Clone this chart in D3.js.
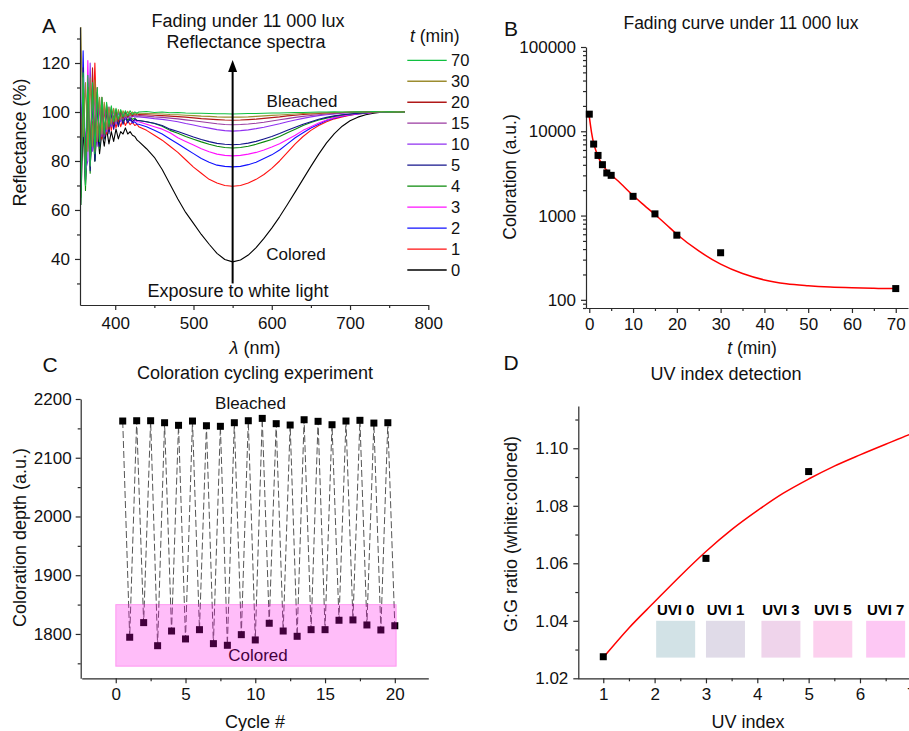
<!DOCTYPE html>
<html><head><meta charset="utf-8">
<script src="https://cdn.jsdelivr.net/npm/d3@7"></script>
<style>
body{margin:0;background:#fff}
svg{display:block;font-family:"Liberation Sans",Arial,Helvetica,sans-serif}
</style></head><body>
<svg id="chart" width="909" height="731"></svg>
<script>
// ---------------- DATA ----------------
// Panel A: reflectance spectra (%)
const wavelengths = [356,359,362,365,368,371,374,377,380,383,386,389,392,395,398,401,404,407,410,413,416,419,422,425,428,
  430,440,450,460,470,480,490,500,510,520,530,540,550,560,570,580,590,600,610,620,630,640,650,660,670,680,690,700,710,720,730,740,750,760,770];
const spectraTimes = [0,1,2,3,4,5,10,15,20,30,70];
const spectrum0 = [62,95,70,98,78,96,80,94,83,92,86,93,87,92,88,93,89,92,91,93.5,91,92,90.5,90,88.5,
  88,85,81.5,76.5,70.5,64.5,59,54.5,50,46,42.3,39.8,38.8,39.6,41.6,44.6,48.4,52.6,57.2,62.2,67.4,72.6,77.8,82.8,87.4,91.2,94.2,96.4,97.9,98.9,99.5,99.9,100.1,100,100.2];
const spectrum1 = [75,112,80,108,85,90,120,88,103,89,101,91,99.5,92.5,98.5,93.5,97.5,94,97,94.5,96.5,94.8,95.8,94.5,95,
  94,92.5,90.5,88.5,86,83.5,80.5,77.5,75,72.5,71,70,69.7,70,71,72.5,74.5,77,80,83.5,87,90,92.5,94.5,96,97.2,98,98.7,99.2,99.5,99.8,100,100.2,100,100.1];
const spectrum2 = [80,125,78,112,82,108,86,104,89,102,91,101,93,99,94,98.5,95,98,96,97.5,96,97,95.5,96,95,
  95,94,92.5,91,89,87,85,83,81,79.5,78.3,77.8,77.6,77.8,78.5,79.5,81,82.5,84.5,87,89.5,91.5,93.5,95,96.5,97.5,98.3,98.8,99.2,99.5,99.8,100,100.1,99.9,100.2];
const spectrum3 = [70,110,72,121,80,110,84,106,88,103,90,101,92,100,93,99,94.5,98.5,95.5,98,96,97.5,96,97,96,
  96,95,94,93,91.5,89.5,88,86.5,85,83.8,82.8,82.3,82.1,82.3,82.8,83.5,84.5,85.7,87,88.8,90.5,92.5,94,95.5,96.7,97.7,98.4,98.9,99.3,99.6,99.8,100,100,100.1,100];
const spectrum4 = [65,115,68,110,75,112,80,108,85,104,89,102,92,101,94,100,95,99,96,98.5,96.5,98,97,97.5,96.5,
  96.5,96,95.3,94.2,92.5,91.3,90,88.9,87.8,86.8,86,85.5,85.3,85.5,86,86.8,87.8,88.8,90,91.5,93,94.5,95.7,96.7,97.5,98.2,98.8,99.2,99.5,99.7,100,100,100.1,100,100];
const spectrum5 = [68,118,72,105,76,106,80,104,86,102,89,101,91,100,93,99,94,98.5,95,98,95.5,97.5,96,97,96.5,
  96.5,96,95.4,94.5,93,92,90.9,89.8,88.8,87.9,87.2,86.8,86.6,86.8,87.3,88,89,90,91.2,92.5,93.8,95,96,97,97.8,98.4,98.9,99.2,99.5,99.7,100,100,99.9,100.1,100];
const spectrum10 = [72,114,76,80,120,84,109,86,105,90,103,92,102,94,101,95,100,96,99.5,97,99,97.5,98.5,98,98,
  98,97.7,97.3,97,96.5,96,95.3,94.7,94,93.4,92.8,92.4,92.2,92.4,92.7,93.2,93.8,94.5,95.2,96,96.7,97.4,98,98.5,98.9,99.2,99.5,99.7,99.9,100,100,100.1,100,100.2,100];
const spectrum15 = [90,108,74,112,78,108,84,106,88,104,90,102,93,101,95,100.5,96,100,97,99.5,97.5,99,98,98.8,98.3,
  98.5,98.3,98,97.8,97.5,97.2,96.8,96.4,96,95.6,95.2,94.9,94.8,94.9,95.1,95.4,95.8,96.3,96.8,97.3,97.8,98.2,98.6,98.9,99.2,99.4,99.6,99.8,99.9,100,100,100.1,100,100,100.1];
const spectrum20 = [85,105,80,110,82,118,84,110,88,106,91,103,93,102,95,101,96,100.5,97.5,100,98,99.5,98.5,99.3,98.8,
  99,98.9,98.7,98.5,98.3,98.1,97.9,97.6,97.3,97.1,96.9,96.7,96.6,96.7,96.9,97.1,97.4,97.7,98,98.4,98.7,99,99.2,99.4,99.6,99.7,99.8,100,100,100.1,100,100.2,100,100,100.1];
const spectrum30 = [135,90,112,84,114,86,113,88,106,91,104,93,102,95,101.5,96,101,97,100.5,98,100.3,98.5,100,99,99.5,
  99.5,99.4,99.3,99.2,99,98.9,98.7,98.5,98.3,98.2,98,97.9,97.9,97.9,98,98.2,98.4,98.6,98.8,99,99.2,99.4,99.5,99.6,99.7,99.8,99.9,100,100.1,100,100,100.2,100,100.1,100];
const spectrum70 = [62,116,70,115,78,112,83,110,88,106,91,104,94,102.5,96,101.5,97,101,98,100.5,98.5,100.5,99,100,99.5,
  100,100.2,99.8,100,99.7,99.8,99.6,99.5,99.5,99.4,99.3,99.3,99.2,99.3,99.4,99.4,99.5,99.6,99.6,99.7,99.8,99.8,99.9,100,100,100.1,100,100,100.1,100,100.2,100,100.1,100,100];
const spectra = [spectrum0,spectrum1,spectrum2,spectrum3,spectrum4,spectrum5,spectrum10,spectrum15,spectrum20,spectrum30,spectrum70];
const legendTimes = [70,30,20,15,10,5,4,3,2,1,0];
const arrowWavelength = [550];
const arrowReflectance = [30, 121.2];

// Panel B: fading curve
const fadeTimes = [0,1,2,3,4,5,10,15,20,30,70];
const fadeColoration = [15960,7050,5170,4015,3200,3000,1690,1047,585,362,136];
const fitTimes = [0,0.5,1,1.5,2,3,4,5,7,10,12.5,15,17.5,20,25,30,35,40,45,50,55,60,65,70];
const fitColoration = [15000,9800,7200,5900,5000,4000,3450,3050,2450,1730,1330,1030,790,600,380,265,205,172,155,147,142,139,137,136];

// Panel C: cycling
const bleachedCycle = [0.5,1.5,2.5,3.5,4.5,5.5,6.5,7.5,8.5,9.5,10.5,11.5,12.5,13.5,14.5,15.5,16.5,17.5,18.5,19.5];
const bleachedDepth = [2162.5,2163,2163,2159.6,2155.2,2162.5,2154.5,2153.5,2159.6,2163,2167,2158,2155.7,2164.7,2162,2156.2,2162.5,2163.7,2159,2159.6];
const coloredCycle = [1,2,3,4,5,6,7,8,9,10,11,12,13,14,15,16,17,18,19,20];
const coloredDepth = [1794.4,1819.3,1780,1805,1791.5,1807.3,1783.5,1780.7,1798.8,1789.8,1818.2,1805,1796,1807.3,1807.3,1823.3,1823.9,1815.3,1806.8,1814];
const coloredBandCycle = [0, 20.1];
const coloredBandDepth = [1745, 1850];

// Panel D: UV index
const uvIndex = [1,3,5];
const ggRatio = [1.0275,1.0617,1.0919];
const fitUV = [1,1.5,2,2.5,3,3.5,4,4.5,5,5.5,6,6.5,7,7.2];
const fitRatio = [1.0272,1.0375,1.0466,1.0556,1.0641,1.0717,1.0783,1.0843,1.0893,1.0938,1.0977,1.1014,1.1050,1.1063];
const uviLabels = ["UVI 0","UVI 1","UVI 3","UVI 5","UVI 7"];

// ---------------- STYLE / LAYOUT ----------------
const FONT = '"Liberation Sans", Arial, Helvetica, sans-serif';
const TICK = 17;
const spectraColors = {0:"#000000",1:"#ff1010",2:"#1010ff",3:"#ff10ff",4:"#0a8a0a",5:"#14148c",10:"#9030f0",15:"#9a3aa0",20:"#b01818",30:"#9c8c30",70:"#10c040"};
const swatchColors = ["#d2e2e6","#e0dbe8","#efd4eb","#fcd0ee","#fdc8f4"];
const swatchCenters = [2.41,3.38,4.46,5.47,6.5];

const svg = d3.select("#chart");
svg.append("rect").attr("width",909).attr("height",731).attr("fill","#fff");

function drawAxis(orient, scale, pos, major, minor, fmt, pad){
  const mk = orient === "left" ? d3.axisLeft : d3.axisBottom;
  const tr = orient === "left" ? `translate(${pos},0)` : `translate(0,${pos})`;
  const gMin = svg.append("g").attr("transform", tr)
    .call(mk(scale).tickValues(minor).tickSize(3).tickSizeOuter(0).tickFormat(""));
  gMin.select(".domain").remove();
  const gMaj = svg.append("g").attr("transform", tr)
    .call(mk(scale).tickValues(major).tickSize(5).tickSizeOuter(0).tickPadding(pad).tickFormat(fmt));
  [gMin, gMaj].forEach(g => {
    g.selectAll("line,path").attr("stroke","#2a2a2a").attr("stroke-width",1.2);
    g.selectAll("text").attr("font-size",TICK).attr("fill","#111").attr("font-family",FONT);
  });
}
function text(x, y, str, opts = {}){
  const t = svg.append("text").attr("x",x).attr("y",y).text(str)
    .attr("font-size",opts.size || 18).attr("text-anchor",opts.anchor || "middle")
    .attr("fill",opts.fill || "#111").attr("font-family",FONT);
  if (opts.weight) t.attr("font-weight",opts.weight);
  if (opts.rotate) t.attr("transform",`rotate(-90,${x},${y})`);
  return t;
}
function italicLabel(x, y, first, rest, size){
  const t = svg.append("text").attr("x",x).attr("y",y).attr("font-size",size)
    .attr("text-anchor","middle").attr("fill","#111").attr("font-family",FONT);
  t.append("tspan").attr("font-style","italic").text(first);
  t.append("tspan").text(rest);
  return t;
}

// ---------------- PANEL A ----------------
const xA = d3.scaleLinear().domain([355,800]).range([80,428.3]);
const yA = d3.scaleLinear().domain([21.2,134.7]).range([305,27]);
svg.append("clipPath").attr("id","clipA").append("rect").attr("x",80).attr("y",27).attr("width",349).attr("height",278);
const lineA = d3.line().x((d,i)=>xA(wavelengths[i])).y(d=>yA(d));
const gA = svg.append("g").attr("clip-path","url(#clipA)");
spectra.forEach((s,k)=>{
  gA.append("path").attr("d", lineA(s)).attr("fill","none")
    .attr("stroke", spectraColors[spectraTimes[k]]).attr("stroke-width",1.1).attr("stroke-linejoin","round");
});
drawAxis("left", yA, 80, [40,60,80,100,120], [30,50,70,90,110,130], d3.format("d"), 5);
drawAxis("bottom", xA, 305, [400,500,600,700,800], [450,550,650,750], d3.format("d"), 7);
// arrow
const ax = xA(arrowWavelength[0]), ayB = yA(arrowReflectance[0]), ayT = yA(arrowReflectance[1]);
svg.append("line").attr("x1",ax).attr("x2",ax).attr("y1",ayB).attr("y2",ayT+10).attr("stroke","#000").attr("stroke-width",2);
svg.append("path").attr("d",`M${ax},${ayT} L${ax-4.5},${ayT+12} L${ax+4.5},${ayT+12} Z`).attr("fill","#000");
text(49,33,"A",{size:21});
text(248,27,"Fading under 11 000 lux");
text(246,48,"Reflectance spectra");
text(302,106.5,"Bleached",{size:17});
text(296,259.5,"Colored",{size:17});
text(238,297,"Exposure to white light");
text(26,142.5,"Reflectance (%)",{rotate:true});
svg.append("text").attr("x",255).attr("y",354).attr("font-size",18).attr("text-anchor","middle").attr("font-family",FONT).attr("fill","#111")
  .call(t=>{t.append("tspan").attr("font-style","italic").text("λ");t.append("tspan").text(" (nm)");});
// legend
svg.append("text").attr("x",410).attr("y",42).attr("font-size",17.5).attr("font-family",FONT).attr("fill","#111")
  .call(t=>{t.append("tspan").attr("font-style","italic").text("t");t.append("tspan").text(" (min)");});
legendTimes.forEach((tm,i)=>{
  const y = 60.3 + i*20.97;
  svg.append("line").attr("x1",407.3).attr("x2",446.7).attr("y1",y).attr("y2",y)
    .attr("stroke",spectraColors[tm]).attr("stroke-width",1.3);
  text(451,y+6,String(tm),{size:16.5,anchor:"start"});
});

// ---------------- PANEL B ----------------
const xB = d3.scaleLinear().domain([-0.75,72.8]).range([586,908]);
const yB = d3.scaleLog().domain([80,100000]).range([308,47]);
const minorB = [];
[10,100,1000,10000].forEach(dec=>{ for(let m=2;m<=9;m++){ const v=m*dec; if(v>=80 && v<100000) minorB.push(v);} });
drawAxis("left", yB, 586, [100,1000,10000,100000], minorB, d3.format("d"), 5);
drawAxis("bottom", xB, 308, [0,10,20,30,40,50,60,70], [5,15,25,35,45,55,65], d3.format("d"), 5);
svg.append("path").attr("d", d3.line().x((d,i)=>xB(fitTimes[i])).y(d=>yB(d)).curve(d3.curveMonotoneX)(fitColoration))
  .attr("fill","none").attr("stroke","#ff0000").attr("stroke-width",1.5);
svg.selectAll(".ptB").data(fadeColoration).enter().append("rect")
  .attr("x",(d,i)=>xB(fadeTimes[i])-3.5).attr("y",d=>yB(d)-3.5).attr("width",7).attr("height",7).attr("fill","#000");
text(511,36,"B",{size:21});
text(741,29,"Fading curve under 11 000 lux",{size:17.5});
text(516,177,"Coloration (a.u.)",{size:17.5,rotate:true});
italicLabel(752,354,"t"," (min)",17.5);

// ---------------- PANEL C ----------------
const xC = d3.scaleLinear().domain([-2.44,22.4]).range([81.7,428.3]);
const yC = d3.scaleLinear().domain([1724.5,2200]).range([678.3,399]);
const zig = [];
bleachedCycle.forEach((c,i)=>{ zig.push([c,bleachedDepth[i]]); zig.push([coloredCycle[i],coloredDepth[i]]); });
svg.append("path").attr("d", d3.line().x(d=>xC(d[0])).y(d=>yC(d[1]))(zig))
  .attr("fill","none").attr("stroke","#555").attr("stroke-width",1).attr("stroke-dasharray","7,3");
svg.selectAll(".ptCb").data(bleachedDepth).enter().append("rect")
  .attr("x",(d,i)=>xC(bleachedCycle[i])-3.5).attr("y",d=>yC(d)-3.5).attr("width",7).attr("height",7).attr("fill","#000");
svg.selectAll(".ptCc").data(coloredDepth).enter().append("rect")
  .attr("x",(d,i)=>xC(coloredCycle[i])-3.5).attr("y",d=>yC(d)-3.5).attr("width",7).attr("height",7).attr("fill","#000");
text(258,661,"Colored",{size:17,fill:"#000"});
svg.append("rect").attr("x",xC(coloredBandCycle[0])).attr("y",yC(coloredBandDepth[1]))
  .attr("width",xC(coloredBandCycle[1])-xC(coloredBandCycle[0])).attr("height",yC(coloredBandDepth[0])-yC(coloredBandDepth[1]))
  .attr("fill","rgba(255,0,230,0.26)").attr("stroke","rgba(255,0,220,0.3)").attr("stroke-width",1);
drawAxis("left", yC, 80.7, [1800,1900,2000,2100,2200], [1750,1850,1950,2050,2150], d3.format("d"), 4);
drawAxis("bottom", xC, 678.3, [0,5,10,15,20], [2.5,7.5,12.5,17.5], d3.format("d"), 5);
text(50,371.7,"C",{size:21});
text(255,378.6,"Coloration cycling experiment");
text(250.5,409,"Bleached",{size:17});
text(26,537.5,"Coloration depth (a.u.)",{rotate:true});
text(255,728,"Cycle #");

// ---------------- PANEL D ----------------
const xD = d3.scaleLinear().domain([0.5,7.2]).range([577.6,921.6]);
const yD = d3.scaleLinear().domain([1.02,1.1147]).range([678.3,406]);
drawAxis("left", yD, 578.3, [1.02,1.04,1.06,1.08,1.10], [1.03,1.05,1.07,1.09,1.11], d3.format(".2f"), 5);
drawAxis("bottom", xD, 678.3, [1,2,3,4,5,6,7], [1.5,2.5,3.5,4.5,5.5,6.5], d3.format("d"), 5);
uviLabels.forEach((lab,i)=>{
  const cx = xD(swatchCenters[i]);
  svg.append("rect").attr("x",cx-19.5).attr("y",yD(1.040)).attr("width",39).attr("height",yD(1.0272)-yD(1.040)).attr("fill",swatchColors[i]);
  text(cx,615,lab,{size:15,weight:"bold",fill:"#000"});
});
svg.append("path").attr("d", d3.line().x((d,i)=>xD(fitUV[i])).y(d=>yD(d)).curve(d3.curveMonotoneX)(fitRatio))
  .attr("fill","none").attr("stroke","#ff0000").attr("stroke-width",1.5);
svg.selectAll(".ptD").data(ggRatio).enter().append("rect")
  .attr("x",(d,i)=>xD(uvIndex[i])-3.5).attr("y",d=>yD(d)-3.5).attr("width",7).attr("height",7).attr("fill","#000");
text(511,370,"D",{size:21});
text(726,380,"UV index detection");
text(517,534,"G:G ratio (white:colored)",{rotate:true});
text(748,728,"UV index");
</script>
</body></html>
